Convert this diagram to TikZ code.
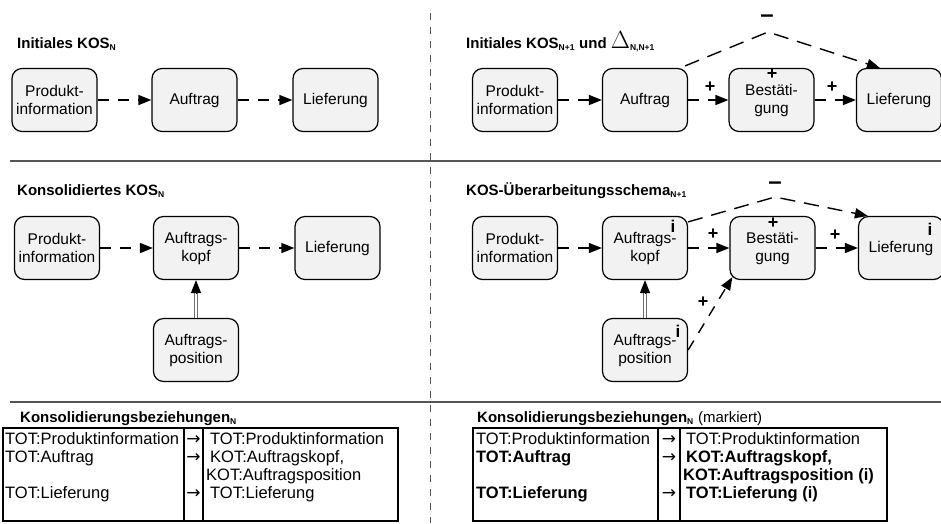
\documentclass[tikz,border=0pt]{standalone}
\usepackage{fontspec}
\setmainfont{Liberation Sans}
\newfontfamily\pfeilfont{DejaVu Sans}
\usetikzlibrary{positioning,arrows.meta}
\definecolor{kosgray}{RGB}{242,242,242}
\definecolor{kosline}{RGB}{85,85,85}
\definecolor{kosdouble}{RGB}{110,110,110}
\newcommand{\sub}[1]{\textsubscript{\fontsize{8.5}{9}\selectfont\bfseries #1}}
\newcommand{\pfeil}{{\pfeilfont\fontsize{17}{18}\selectfont →}}

\begin{document}
\begin{tikzpicture}[x=1pt,y=-1pt,
    box/.style={draw,line width=1.2pt,rounded corners=10pt,fill=kosgray,
        minimum width=85pt,minimum height=63pt,inner sep=0pt,align=center,
        font=\fontsize{15.5}{18}\selectfont},
    ttl/.style={anchor=base west,inner sep=0pt,font=\fontsize{15}{18}\selectfont\bfseries},
    flow/.style={-{Triangle[length=13pt,width=10pt]},line width=1.4pt,
        dash pattern=on 11pt off 9pt},
    sgn/.style={inner sep=0pt,font=\fontsize{18}{18}\selectfont\bfseries},
    minus/.style={inner sep=0pt,font=\fontsize{24}{24}\selectfont\bfseries},
    idx/.style={inner sep=0pt,font=\fontsize{17}{17}\selectfont\bfseries},
    tab/.style={anchor=base west,inner sep=0pt,font=\fontsize{16.5}{18}\selectfont},
    tabfett/.style={tab,font=\fontsize{16.5}{18}\selectfont\bfseries},
    dbl/.style={double=white,draw=kosdouble,double distance=2.4pt,line width=0.9pt}]
    \useasboundingbox (0,0) rectangle (941,523);
    % Raster
    \draw[kosline,line width=1pt,dash pattern=on 7pt off 7pt] (430,13)--(430,523);
    \draw[kosline,line width=2pt] (10,161)--(941,161);
    \draw[kosline,line width=2pt] (10,402)--(941,402);
    % Initiales KOS N
    \node[ttl] (titelA) at (17,48) {Initiales KOS\sub{N}};
    \node[box] (prodA) at (54.5,100) {Produkt-\\information};
    \node[box] (auftA) at (194.5,100) {Auftrag};
    \node[box] (liefA) at (335.5,100) {Lieferung};
    \draw[flow] (prodA)--(auftA);
    \draw[flow] (auftA)--(liefA);
    % Initiales KOS N+1
    \node[ttl] (titelB) at (466,48) {Initiales KOS\sub{N+1} und
        {\fontsize{26}{26}\selectfont$\Delta$}\sub{N,N+1}};
    \node[box] (prodB) at (515,100) {Produkt-\\information};
    \node[box] (auftB) at (645,100) {Auftrag};
    \node[box] (bestB) at (771.5,100) {Bestäti-\\gung};
    \node[box] (liefB) at (899,100) {Lieferung};
    \draw[flow] (prodB)--(auftB);
    \draw[flow] (auftB)--(bestB);
    \draw[flow] (bestB)--(liefB);
    \coordinate (gipfelB) at (768,32);
    \draw[flow,dash pattern=on 15pt off 9pt] ([xshift=-3pt,yshift=2pt]auftB.north east)
        --(gipfelB)--([xshift=24pt]liefB.north west);
    \node[minus] (minusB) at (767,19) {–};
    \node[sgn] (plusB1) at (710,87) {+};
    \node[sgn] (plusB2) at (772,74) {+};
    \node[sgn] (plusB3) at (832,87) {+};
    % Konsolidiertes KOS N
    \node[ttl] (titelC) at (17,195) {Konsolidiertes KOS\sub{N}};
    \node[box] (prodC) at (57,248) {Produkt-\\information};
    \node[box] (kopfC) at (196,248) {Auftrags-\\kopf};
    \node[box] (liefC) at (337.5,248) {Lieferung};
    \node[box] (posC) at (196,350) {Auftrags-\\position};
    \draw[flow] (prodC)--(kopfC);
    \draw[flow] (kopfC)--(liefC);
    \draw[dbl] (posC.north)--([yshift=-12pt]kopfC.south);
    \draw[-{Triangle[length=13pt,width=10pt]},line width=1pt]
        ([yshift=-13pt]kopfC.south)--(kopfC.south);
    % KOS-Ueberarbeitungsschema
    \node[ttl] (titelD) at (466,195) {KOS-Überarbeitungsschema\sub{N+1}};
    \node[box] (prodD) at (515,248) {Produkt-\\information};
    \node[box] (kopfD) at (645,248) {Auftrags-\\kopf};
    \node[box] (bestD) at (772.5,248) {Bestäti-\\gung};
    \node[box] (liefD) at (901,248) {Lieferung};
    \node[box] (posD) at (645,350) {Auftrags-\\position};
    \draw[flow] (prodD)--(kopfD);
    \draw[flow] (kopfD)--(bestD);
    \draw[flow] (bestD)--(liefD);
    \draw[flow] (posD.east)--([xshift=3pt,yshift=3pt]bestD.south west);
    \draw[dbl] (posD.north)--([yshift=-12pt]kopfD.south);
    \draw[-{Triangle[length=13pt,width=10pt]},line width=1pt]
        ([yshift=-13pt]kopfD.south)--(kopfD.south);
    \coordinate (gipfelD) at (775,197);
    \draw[flow,dash pattern=on 15pt off 9pt] ([yshift=-6pt]kopfD.north east)
        --(gipfelD)--([xshift=10pt]liefD.north west);
    \node[minus] (minusD) at (775,186) {–};
    \node[sgn] (plusD1) at (713,234) {+};
    \node[sgn] (plusD2) at (773,223) {+};
    \node[sgn] (plusD3) at (835,235) {+};
    \node[sgn] (plusD4) at (703,302) {+};
    \node[idx] (iKopf) at (673,226) {i};
    \node[idx] (iLief) at (930,229) {i};
    \node[idx] (iPos) at (678,331) {i};
    % Konsolidierungsbeziehungen
    \node[ttl] (titelE) at (20,422) {Konsolidierungsbeziehungen\sub{N}};
    \draw[line width=1.2pt] (3,428) rectangle (398,521);
    \draw[line width=1.2pt] (184,428)--(184,521) (203,428)--(203,521);
    \node[tab] (linksE1) at (5,444) {TOT:Produktinformation};
    \node[tab] (linksE2) at (5,462) {TOT:Auftrag};
    \node[tab] (linksE4) at (5,498) {TOT:Lieferung};
    \foreach \y in {444,462,498}
        \node[tab,anchor=base] (pfeilE\y) at (193.5,\y) {\pfeil};
    \node[tab] (rechtsE1) at (210,444) {TOT:Produktinformation};
    \node[tab] (rechtsE2) at (210,462) {KOT:Auftragskopf,};
    \node[tab] (rechtsE3) at (206,480) {KOT:Auftragsposition};
    \node[tab] (rechtsE4) at (210,498) {TOT:Lieferung};
    % Konsolidierungsbeziehungen (markiert)
    \node[ttl] (titelF) at (477,422) {Konsolidierungsbeziehungen\sub{N}
        {\mdseries (markiert)}};
    \draw[line width=1.2pt] (473,428) rectangle (887,521);
    \draw[line width=1.2pt] (658,428)--(658,521) (680,428)--(680,521);
    \node[tab] (linksF1) at (476,444) {TOT:Produktinformation};
    \node[tabfett] (linksF2) at (476,462) {TOT:Auftrag};
    \node[tabfett] (linksF4) at (476,498) {TOT:Lieferung};
    \foreach \y in {444,462,498}
        \node[tab,anchor=base] (pfeilF\y) at (669,\y) {\pfeil};
    \node[tab] (rechtsF1) at (686,444) {TOT:Produktinformation};
    \node[tabfett] (rechtsF2) at (686,462) {KOT:Auftragskopf,};
    \node[tabfett] (rechtsF3) at (683,480) {KOT:Auftragsposition (i)};
    \node[tabfett] (rechtsF4) at (686,498) {TOT:Lieferung (i)};
\end{tikzpicture}
\end{document}
